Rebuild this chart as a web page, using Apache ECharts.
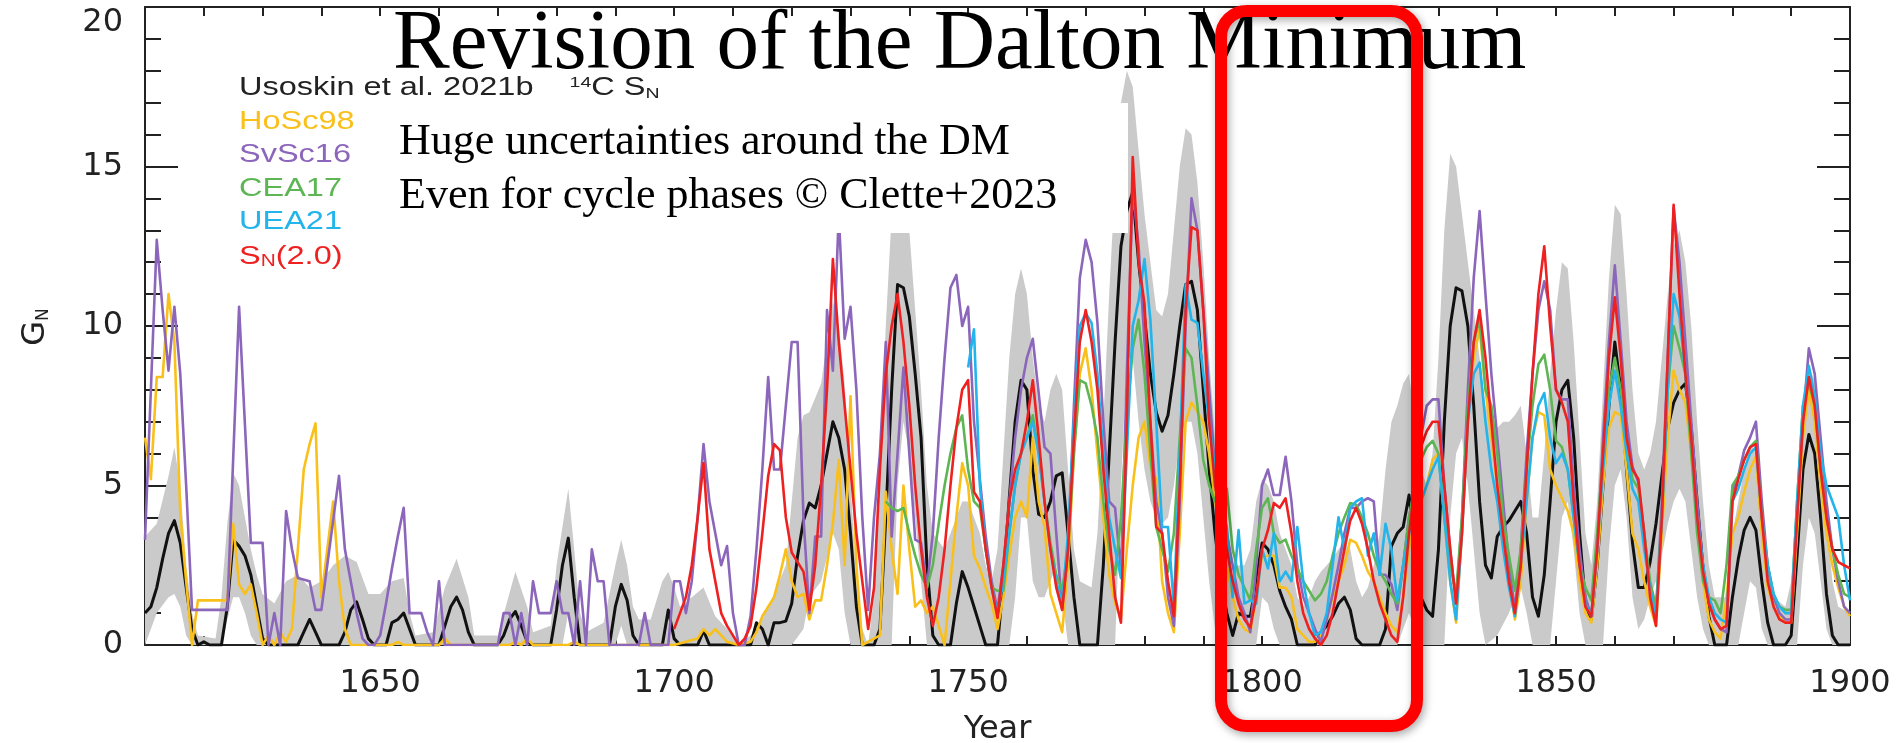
<!DOCTYPE html>
<html>
<head>
<meta charset="utf-8">
<title>Revision of the Dalton Minimum</title>
<script src="https://cdn.jsdelivr.net/npm/echarts@6/dist/echarts.min.js"></script>
<style>
  html, body { margin: 0; padding: 0; background: #ffffff; }
  #chart { width: 1897px; height: 743px; }
</style>
</head>
<body>
<div id="chart"></div>
<script>
// Group number G_N reconstructions, [year, value]

// Usoskin et al. 2021b, 14C-based S_N
const usoskinGN = [[1610,1.0],[1611,1.2],[1612,1.8],[1613,2.7],[1614,3.5],[1615,3.9],[1616,3.2],[1617,1.8],[1618,0.5],[1619,0],[1620,0.1],[1621,0],[1623,0],[1624,1.2],[1625,3.3],[1626,3.1],[1627,2.8],[1628,2.2],[1629,1.2],[1630,0.2],[1631,0],[1636,0],[1637,0.4],[1638,0.8],[1639,0.4],[1640,0],[1643,0],[1644,0.4],[1645,1.1],[1646,1.35],[1647,0.8],[1648,0.2],[1649,0],[1651,0],[1652,0.7],[1653,0.8],[1654,1.0],[1655,0.5],[1656,0],[1660,0],[1661,0.6],[1662,1.2],[1663,1.5],[1664,1.1],[1665,0.4],[1666,0],[1670,0],[1671,0.3],[1672,0.8],[1673,1.05],[1674,0.6],[1675,0.1],[1676,0],[1679,0],[1680,1.1],[1681,2.5],[1682,3.35],[1683,1.5],[1684,0],[1689,0],[1690,1.2],[1691,1.9],[1692,1.4],[1693,0.3],[1694,0],[1698,0],[1699,1.1],[1700,0.2],[1701,0],[1704,0],[1705,0.45],[1706,0],[1713,0],[1714,0.7],[1715,0.5],[1716,0],[1717,0.7],[1718,0.7],[1719,0.75],[1720,1.3],[1721,2.8],[1722,3.9],[1723,4.45],[1724,4.3],[1725,5.0],[1726,6.0],[1727,7.0],[1728,6.5],[1729,5.5],[1730,3.5],[1731,1.2],[1732,0],[1734,0],[1735,0.5],[1736,4.0],[1737,8.0],[1738,11.3],[1739,11.2],[1740,10.3],[1741,8.5],[1742,6.5],[1743,2.5],[1744,0.3],[1745,0],[1747,0],[1748,1.3],[1749,2.3],[1750,1.8],[1751,1.2],[1752,0.6],[1753,0],[1755,0],[1756,2.0],[1757,4.6],[1758,7.0],[1759,8.3],[1760,8.0],[1761,5.5],[1762,4.1],[1763,4.0],[1764,4.5],[1765,5.3],[1766,5.4],[1767,3.5],[1768,1.5],[1769,0],[1772,0],[1773,2.5],[1774,6.0],[1775,9.5],[1776,12.5],[1777,13.6],[1778,14.2],[1779,12.0],[1780,10.3],[1781,8.5],[1782,7.3],[1783,6.7],[1784,7.2],[1785,8.5],[1786,10.0],[1787,11.3],[1788,11.4],[1789,10.5],[1790,8.0],[1791,5.5],[1792,3.5],[1793,2.0],[1794,1.0],[1795,0.3],[1796,1.0],[1797,0.9],[1798,0.9],[1799,2.0],[1800,3.2],[1801,3.0],[1802,2.5],[1803,1.7],[1804,1.2],[1805,0.8],[1806,0],[1809,0],[1810,0.4],[1811,0.6],[1812,0.9],[1813,1.3],[1814,1.5],[1815,1.1],[1816,0.2],[1817,0],[1820,0],[1821,0.5],[1822,3.1],[1823,3.5],[1824,3.7],[1825,4.7],[1826,3.0],[1827,1.5],[1828,1.1],[1829,0.9],[1830,3.0],[1831,7.0],[1832,10.0],[1833,11.2],[1834,11.1],[1835,10.0],[1836,7.5],[1837,4.5],[1838,2.5],[1839,2.1],[1840,3.4],[1841,3.7],[1842,3.9],[1843,4.2],[1844,4.5],[1845,3.5],[1846,1.5],[1847,0.9],[1848,2.2],[1849,4.5],[1850,7.0],[1851,8.0],[1852,8.3],[1853,6.5],[1854,3.5],[1855,1.3],[1856,0.8],[1857,2.5],[1858,5.0],[1859,7.5],[1860,9.5],[1861,8.0],[1862,5.5],[1863,3.2],[1864,1.8],[1865,1.8],[1866,2.6],[1867,3.8],[1868,5.3],[1869,6.8],[1870,7.6],[1871,8.0],[1872,8.2],[1873,6.8],[1874,4.5],[1875,2.4],[1876,0.9],[1877,0],[1879,0],[1880,1.5],[1881,2.7],[1882,3.6],[1883,4.0],[1884,3.6],[1885,2.0],[1886,0.7],[1887,0],[1889,0],[1890,0.3],[1891,2.8],[1892,5.5],[1893,6.6],[1894,6.0],[1895,4.0],[1896,1.6],[1897,0.3],[1898,0],[1900,0]];

// Uncertainty range of the 14C reconstruction
const bandUpper = [[1610,3.4],[1612,3.8],[1614,5.3],[1615,6.2],[1616,5.0],[1617,2.5],[1618,1.0],[1619,0.3],[1622,0.2],[1623,1.5],[1624,3.8],[1625,5.4],[1626,5.0],[1627,4.0],[1628,3.0],[1629,2.2],[1630,1.6],[1632,1.3],[1634,2.0],[1636,2.2],[1638,1.8],[1640,2.0],[1642,2.5],[1644,2.8],[1646,2.6],[1648,1.6],[1650,1.6],[1652,2.0],[1654,2.1],[1655,1.0],[1656,0.3],[1659,0.4],[1661,1.8],[1663,2.7],[1665,1.5],[1666,0.3],[1670,0.3],[1673,2.3],[1675,1.2],[1676,0.4],[1679,0.6],[1680,2.5],[1682,4.9],[1683,3.0],[1684,1.0],[1685,0.4],[1688,0.7],[1690,2.5],[1691,3.3],[1692,2.5],[1693,1.2],[1694,0.8],[1696,0.8],[1698,2.0],[1699,2.3],[1700,1.8],[1701,1.2],[1703,1.5],[1705,1.8],[1707,0.9],[1709,0.5],[1711,0],[1713,0.3],[1715,0.8],[1717,1.6],[1719,2.5],[1720,4.5],[1721,6.5],[1722,7.2],[1723,7.3],[1725,8.2],[1727,10.8],[1728,10.0],[1729,8.2],[1730,5.1],[1731,2.0],[1732,0.5],[1733,0],[1734,1.5],[1735,6.0],[1736,10.0],[1737,13.5],[1738,15.0],[1739,15.0],[1740,13.0],[1741,10.5],[1742,8.0],[1743,5.0],[1744,3.5],[1746,3.0],[1748,4.0],[1749,4.5],[1750,4.5],[1751,4.0],[1752,3.5],[1753,2.5],[1754,2.0],[1755,3.0],[1756,6.0],[1757,9.0],[1758,11.0],[1759,11.8],[1760,11.0],[1761,9.0],[1762,7.5],[1763,7.0],[1764,8.0],[1765,8.5],[1766,8.0],[1767,5.5],[1768,3.0],[1769,2.0],[1771,1.8],[1772,3.5],[1773,7.0],[1774,11.0],[1775,14.5],[1776,17.0],[1777,18.0],[1778,17.5],[1779,15.5],[1780,13.5],[1781,12.0],[1782,10.5],[1783,10.3],[1784,11.0],[1785,13.0],[1786,15.0],[1787,16.2],[1788,16.0],[1789,14.5],[1790,12.0],[1791,9.0],[1792,6.5],[1793,4.5],[1794,3.0],[1795,2.0],[1796,2.5],[1797,2.5],[1798,3.0],[1799,4.5],[1800,5.2],[1801,5.0],[1802,4.5],[1803,3.5],[1804,3.0],[1805,2.5],[1806,1.5],[1807,1.2],[1808,1.5],[1809,2.0],[1810,2.3],[1811,2.5],[1812,2.7],[1813,3.0],[1814,3.2],[1815,3.0],[1816,2.0],[1817,1.5],[1818,1.8],[1819,2.5],[1820,3.5],[1821,5.5],[1822,7.0],[1823,7.5],[1824,8.2],[1825,8.5],[1826,7.0],[1827,5.5],[1828,5.0],[1829,6.0],[1830,9.0],[1831,13.0],[1832,15.4],[1833,15.0],[1834,13.5],[1835,12.0],[1836,10.5],[1837,9.0],[1838,7.5],[1839,7.0],[1840,6.8],[1841,7.0],[1842,7.0],[1843,7.2],[1844,7.5],[1845,6.0],[1846,4.0],[1847,4.0],[1848,6.0],[1849,8.5],[1850,10.5],[1851,12.0],[1852,11.8],[1853,9.5],[1854,6.5],[1855,3.5],[1856,2.5],[1857,4.5],[1858,8.0],[1859,11.5],[1860,13.8],[1861,13.5],[1862,11.0],[1863,8.0],[1864,6.0],[1865,5.5],[1866,6.0],[1867,7.0],[1868,9.0],[1869,11.0],[1870,12.5],[1871,13.0],[1872,12.0],[1873,10.0],[1874,7.0],[1875,4.5],[1876,2.5],[1877,1.5],[1879,1.5],[1880,3.5],[1881,4.5],[1882,5.5],[1883,6.3],[1884,6.0],[1885,4.5],[1886,2.5],[1887,1.5],[1889,1.2],[1890,2.0],[1891,5.0],[1892,7.5],[1893,8.7],[1894,8.3],[1895,6.5],[1896,4.0],[1897,2.0],[1898,1.2],[1900,1.0]];
const bandLower = [[1610,0],[1612,1.0],[1614,1.5],[1615,1.6],[1616,1.2],[1617,0.3],[1618,0],[1623,0],[1624,0.8],[1625,1.5],[1626,1.5],[1627,1.0],[1628,0.3],[1629,0],[1681,0],[1682,1.0],[1683,0],[1690,0],[1691,0.6],[1692,0],[1720,0],[1722,0.5],[1723,1.5],[1725,2.0],[1727,3.5],[1728,3.0],[1729,1.0],[1730,0],[1737,0],[1738,5.0],[1739,7.0],[1740,6.0],[1741,4.0],[1742,2.0],[1743,0],[1757,0],[1758,1.5],[1759,4.0],[1760,4.0],[1761,2.0],[1762,1.5],[1763,1.5],[1764,2.0],[1765,2.5],[1766,1.5],[1767,0],[1775,0],[1776,5.0],[1777,9.0],[1778,9.0],[1779,7.0],[1780,5.5],[1781,4.5],[1782,4.0],[1783,3.8],[1784,4.0],[1785,5.0],[1786,6.5],[1787,7.0],[1788,7.0],[1789,6.0],[1790,4.0],[1791,2.0],[1792,0.5],[1793,0],[1799,0],[1800,1.5],[1801,1.3],[1802,0.5],[1803,0],[1823,0],[1824,0.5],[1825,1.0],[1826,0.5],[1827,0],[1831,0],[1832,4.0],[1833,6.0],[1834,6.5],[1835,5.0],[1836,3.0],[1837,1.0],[1838,0],[1840,0.3],[1842,1.0],[1843,1.5],[1844,1.8],[1845,1.0],[1846,0],[1849,0],[1850,2.0],[1851,4.0],[1852,4.5],[1853,3.0],[1854,1.0],[1855,0],[1858,0],[1859,3.0],[1860,5.0],[1861,5.5],[1862,4.0],[1863,1.5],[1864,0.5],[1865,0.8],[1866,1.5],[1867,2.0],[1868,2.8],[1869,3.8],[1870,4.5],[1871,4.9],[1872,4.5],[1873,3.0],[1874,1.5],[1875,0.5],[1876,0],[1881,0],[1882,1.0],[1883,2.0],[1884,1.8],[1885,0.5],[1886,0],[1891,0],[1892,2.5],[1893,4.0],[1894,3.5],[1895,2.0],[1896,0.5],[1897,0],[1900,0]];

// Hoyt & Schatten 1998
const hosc98 = [[1610,6.5],[1611,5.2],[1612,8.4],[1613,8.4],[1614,11.0],[1615,9.5],[1616,4.1],[1617,2.0],[1618,0],[1619,1.4],[1624,1.4],[1625,3.8],[1626,1.9],[1627,1.6],[1628,1.9],[1629,1.0],[1630,0],[1631,0.3],[1632,0],[1633,0.4],[1634,0.1],[1635,0.5],[1636,3.0],[1637,5.5],[1638,6.3],[1639,6.95],[1640,1.5],[1641,3.0],[1642,4.5],[1643,2.0],[1644,0.5],[1645,0],[1652,0],[1653,0.1],[1654,0],[1660,0],[1661,0.2],[1662,0],[1672,0],[1673,0.1],[1674,0],[1675,0.2],[1676,0],[1682,0],[1683,0.1],[1684,0],[1700,0],[1702,0.1],[1704,0.2],[1705,0.5],[1706,0.3],[1707,0.5],[1708,0.3],[1709,0.1],[1711,0],[1713,0.1],[1714,0.4],[1715,0.9],[1716,1.2],[1717,1.5],[1718,2.2],[1719,3.0],[1720,2.0],[1721,1.5],[1722,1.6],[1723,0.8],[1724,1.4],[1725,1.4],[1726,2.5],[1727,3.8],[1728,5.8],[1729,2.5],[1730,7.8],[1731,2.5],[1732,0],[1735,0.3],[1736,4.8],[1737,3.0],[1738,1.6],[1739,5.0],[1740,3.0],[1741,1.2],[1742,1.4],[1743,1.0],[1744,1.2],[1745,0.6],[1746,0],[1747,2.0],[1748,4.0],[1749,5.7],[1750,5.0],[1751,2.8],[1752,2.4],[1753,1.8],[1754,1.3],[1755,0.5],[1756,1.5],[1757,2.8],[1758,4.0],[1759,4.5],[1760,4.0],[1761,6.5],[1762,4.5],[1763,3.7],[1764,1.6],[1765,1.0],[1766,0.4],[1767,2.5],[1768,6.0],[1769,8.5],[1770,9.3],[1771,8.0],[1772,6.0],[1773,4.0],[1774,2.2],[1775,1.3],[1776,0.85],[1777,3.0],[1778,5.0],[1779,6.5],[1780,7.0],[1781,5.6],[1782,5.2],[1783,2.0],[1784,1.0],[1785,0.4],[1786,3.5],[1787,7.0],[1788,7.6],[1789,7.3],[1790,7.0],[1791,6.0],[1792,4.5],[1793,3.5],[1794,2.5],[1795,1.5],[1796,0.8],[1797,0.5],[1798,0.4],[1799,1.5],[1800,2.8],[1801,2.8],[1802,2.8],[1803,1.8],[1804,1.8],[1805,1.5],[1806,0.5],[1807,0.3],[1808,0.1],[1809,0.1],[1810,0.3],[1811,0.8],[1812,1.5],[1813,2.0],[1814,2.5],[1815,3.3],[1816,3.2],[1817,2.8],[1818,2.3],[1819,2.0],[1820,1.5],[1821,1.0],[1822,0.6],[1823,0.4],[1824,1.5],[1825,3.0],[1826,4.0],[1827,4.5],[1828,5.0],[1829,5.8],[1830,6.0],[1831,4.0],[1832,2.0],[1833,0.7],[1834,3.5],[1835,7.0],[1836,9.0],[1837,9.9],[1838,8.0],[1839,6.5],[1840,5.0],[1841,3.5],[1842,2.0],[1843,0.8],[1844,2.0],[1845,4.5],[1846,6.5],[1847,7.3],[1848,7.2],[1849,5.5],[1850,5.0],[1851,4.6],[1852,4.2],[1853,3.5],[1854,2.0],[1855,1.0],[1856,0.7],[1857,2.5],[1858,5.0],[1859,6.8],[1860,7.3],[1861,7.2],[1862,5.5],[1863,3.5],[1864,3.0],[1865,2.0],[1866,1.2],[1867,0.6],[1868,3.5],[1869,6.5],[1870,8.6],[1871,8.0],[1872,7.6],[1873,6.0],[1874,4.0],[1875,2.0],[1876,0.8],[1877,0.4],[1878,0.2],[1879,1.5],[1880,3.5],[1881,4.0],[1882,4.8],[1883,5.5],[1884,5.9],[1885,3.5],[1886,1.8],[1887,1.2],[1888,0.9],[1889,0.7],[1890,0.7],[1891,3.5],[1892,6.5],[1893,8.0],[1894,7.0],[1895,5.0],[1896,3.5],[1897,2.5],[1898,1.8],[1899,1.2],[1900,0.9]];

// Svalgaard & Schatten 2016
const svsc16 = [[1610,3.3],[1611,8.0],[1612,12.7],[1613,10.5],[1614,8.6],[1615,10.6],[1616,8.5],[1617,5.0],[1618,1.1],[1624,1.1],[1626,10.6],[1628,3.2],[1630,3.2],[1631,0],[1632,1.0],[1633,0],[1634,4.2],[1635,3.0],[1636,2.1],[1638,2.0],[1639,1.1],[1640,1.1],[1641,2.5],[1642,3.9],[1643,5.3],[1644,3.0],[1645,2.0],[1646,1.0],[1647,0.2],[1648,0],[1649,0],[1650,0.3],[1651,1.3],[1652,2.4],[1653,3.4],[1654,4.3],[1655,1.0],[1657,1.0],[1658,0.4],[1659,0],[1660,2.0],[1661,0],[1670,0],[1671,1.0],[1672,1.0],[1673,0],[1674,1.0],[1675,0],[1676,2.0],[1677,1.0],[1679,1.0],[1680,2.0],[1681,1.0],[1682,1.0],[1683,0],[1684,2.0],[1685,0],[1686,3.0],[1687,2.0],[1688,2.0],[1689,0],[1694,0],[1695,1.0],[1696,0],[1699,0],[1700,2.0],[1701,2.0],[1702,1.0],[1703,2.0],[1704,4.0],[1705,6.3],[1706,4.5],[1707,3.5],[1708,2.5],[1709,3.1],[1710,1.0],[1711,0],[1712,0],[1713,0.9],[1714,3.0],[1715,5.5],[1716,8.4],[1717,5.5],[1718,5.5],[1719,7.5],[1720,9.5],[1721,9.5],[1722,4.0],[1723,1.0],[1724,3.4],[1725,3.4],[1726,10.5],[1727,8.6],[1728,13.5],[1729,9.6],[1730,10.6],[1731,8.0],[1732,4.0],[1733,1.1],[1734,4.0],[1735,6.0],[1736,9.5],[1737,3.4],[1738,6.0],[1739,8.7],[1740,6.0],[1741,3.3],[1742,3.2],[1743,1.8],[1744,3.5],[1745,6.5],[1746,9.0],[1747,11.2],[1748,11.6],[1749,10.0],[1750,10.6],[1751,7.0],[1752,5.2],[1753,3.4],[1754,2.0],[1755,1.1],[1756,2.5],[1757,4.5],[1758,6.5],[1759,8.0],[1760,9.0],[1761,9.6],[1762,7.9],[1763,6.2],[1764,6.0],[1765,3.5],[1766,1.1],[1767,3.0],[1768,7.5],[1769,11.5],[1770,12.7],[1771,12.0],[1772,10.1],[1773,7.0],[1774,4.5],[1775,4.3],[1776,2.3],[1777,8.5],[1778,14.3],[1779,12.5],[1780,9.5],[1781,7.0],[1782,4.5],[1783,3.5],[1784,1.5],[1785,0.6],[1786,4.5],[1787,10.0],[1788,14.0],[1789,13.0],[1790,10.5],[1791,8.0],[1792,5.5],[1793,4.5],[1794,3.5],[1795,2.5],[1796,1.5],[1797,1.0],[1798,0.4],[1799,2.5],[1800,5.0],[1801,5.5],[1802,4.7],[1803,4.7],[1804,5.9],[1805,4.5],[1806,2.5],[1807,1.5],[1808,1.0],[1809,0.5],[1810,0.1],[1811,0.8],[1812,1.6],[1813,2.5],[1814,3.5],[1815,4.3],[1816,4.3],[1817,4.5],[1818,4.6],[1819,4.5],[1820,2.2],[1821,2.2],[1822,1.9],[1823,1.1],[1824,2.5],[1825,4.0],[1826,5.0],[1827,6.5],[1828,7.5],[1829,7.7],[1830,7.7],[1831,5.0],[1832,3.0],[1833,1.3],[1834,4.0],[1835,8.0],[1836,11.5],[1837,13.6],[1838,11.0],[1839,8.5],[1840,6.5],[1841,4.5],[1842,2.5],[1843,1.1],[1844,3.0],[1845,6.0],[1846,8.5],[1847,10.5],[1848,11.4],[1849,10.5],[1850,8.0],[1851,7.7],[1852,7.7],[1853,5.0],[1854,3.0],[1855,1.5],[1856,0.9],[1857,3.0],[1858,6.5],[1859,9.5],[1860,11.9],[1861,9.5],[1862,7.0],[1863,5.6],[1864,5.1],[1865,3.5],[1866,1.8],[1867,0.9],[1868,4.5],[1869,9.0],[1870,13.7],[1871,12.0],[1872,9.5],[1873,7.0],[1874,4.5],[1875,2.5],[1876,1.3],[1877,0.8],[1878,0.5],[1879,0.4],[1880,4.8],[1881,5.3],[1882,6.1],[1883,6.5],[1884,7.0],[1885,4.5],[1886,2.5],[1887,1.5],[1888,1.0],[1889,0.8],[1890,0.8],[1891,4.0],[1892,7.0],[1893,9.3],[1894,8.5],[1895,6.5],[1896,4.5],[1897,3.0],[1898,2.0],[1899,1.2],[1900,1.0]];

// Chatzistergos et al. 2017
const cea17 = [[1736,4.5],[1737,4.3],[1738,4.2],[1739,4.3],[1740,3.5],[1741,2.8],[1742,2.2],[1743,1.8],[1744,2.5],[1745,3.8],[1746,5.0],[1747,6.0],[1748,6.8],[1749,7.2],[1750,5.5],[1751,4.5],[1752,4.3],[1753,3.0],[1754,1.8],[1755,1.7],[1756,1.7],[1757,3.5],[1758,5.0],[1759,6.0],[1760,6.5],[1761,7.2],[1762,6.0],[1763,4.5],[1764,3.2],[1765,2.2],[1766,1.7],[1767,3.0],[1768,6.0],[1769,8.3],[1770,8.2],[1771,7.5],[1772,6.5],[1773,4.5],[1774,3.0],[1775,2.2],[1776,4.0],[1777,7.0],[1778,9.3],[1779,10.2],[1780,8.5],[1781,6.0],[1782,3.7],[1783,3.0],[1784,2.3],[1785,3.5],[1786,6.5],[1787,9.3],[1788,9.0],[1789,7.5],[1790,5.8],[1791,5.0],[1792,4.5],[1793,4.8],[1794,4.9],[1795,3.0],[1796,2.2],[1797,1.8],[1798,1.4],[1799,3.0],[1800,4.3],[1801,4.6],[1802,3.5],[1803,3.2],[1804,3.3],[1805,2.8],[1806,2.4],[1807,2.0],[1808,1.7],[1809,1.4],[1810,1.6],[1811,2.0],[1812,2.8],[1813,3.5],[1814,4.0],[1815,4.45],[1816,4.4],[1817,4.0],[1818,3.5],[1819,2.8],[1820,2.3],[1821,2.0],[1822,1.6],[1823,1.3],[1824,2.5],[1825,4.0],[1826,5.0],[1827,5.8],[1828,6.2],[1829,6.4],[1830,6.0],[1831,4.0],[1832,2.5],[1833,1.6],[1834,4.0],[1835,7.5],[1836,9.5],[1837,10.2],[1838,8.0],[1839,7.5],[1840,6.0],[1841,4.0],[1842,2.8],[1843,1.7],[1844,3.0],[1845,5.5],[1846,7.5],[1847,8.8],[1848,9.1],[1849,8.0],[1850,6.4],[1851,6.2],[1852,5.5],[1853,4.0],[1854,2.5],[1855,1.8],[1856,1.4],[1857,3.5],[1858,6.0],[1859,8.0],[1860,9.0],[1861,8.0],[1862,6.5],[1863,5.2],[1864,4.9],[1865,3.5],[1866,2.0],[1867,1.2],[1868,4.0],[1869,8.0],[1870,10.0],[1871,9.3],[1872,8.5],[1873,6.0],[1874,3.5],[1875,2.0],[1876,1.5],[1877,1.4],[1878,1.0],[1879,2.5],[1880,5.0],[1881,5.3],[1882,5.8],[1883,6.2],[1884,6.4],[1885,4.0],[1886,2.5],[1887,1.6],[1888,1.2],[1889,1.1],[1890,1.1],[1891,4.5],[1892,7.5],[1893,8.2],[1894,7.5],[1895,5.5],[1896,4.0],[1897,3.0],[1898,2.2],[1899,1.6],[1900,1.5]];

// Usoskin et al. 2021
const uea21 = [[1750,8.7],[1751,9.9],[1752,5.0],[1753,3.0],[1754,1.8],[1755,1.0],[1756,2.0],[1757,3.5],[1758,5.0],[1759,6.0],[1760,6.5],[1761,7.0],[1762,6.0],[1763,4.5],[1764,3.0],[1765,2.0],[1766,1.3],[1767,3.5],[1768,7.0],[1769,10.0],[1770,10.4],[1771,10.1],[1772,8.5],[1773,6.0],[1774,4.0],[1775,3.0],[1776,2.1],[1777,6.0],[1778,10.0],[1779,10.8],[1780,12.1],[1781,10.2],[1782,7.0],[1783,3.7],[1784,3.7],[1785,1.2],[1786,6.0],[1787,11.3],[1788,10.2],[1789,10.1],[1790,8.5],[1791,7.0],[1792,5.5],[1793,4.5],[1794,3.7],[1795,1.5],[1796,3.6],[1797,1.3],[1798,1.4],[1799,1.3],[1800,3.0],[1801,2.4],[1802,3.5],[1803,2.0],[1804,2.3],[1805,2.0],[1806,3.7],[1807,2.0],[1808,1.0],[1809,0.3],[1810,0.4],[1811,1.0],[1812,2.5],[1813,4.0],[1814,3.0],[1815,4.3],[1816,4.5],[1817,4.6],[1818,2.8],[1819,3.5],[1820,2.2],[1821,3.8],[1822,3.0],[1823,1.4],[1824,2.5],[1825,3.5],[1826,4.0],[1827,4.5],[1828,5.0],[1829,5.5],[1830,5.9],[1831,4.0],[1832,2.0],[1833,0.8],[1834,3.5],[1835,7.0],[1836,8.5],[1837,8.85],[1838,7.0],[1839,5.5],[1840,4.5],[1841,3.0],[1842,1.8],[1843,0.9],[1844,2.5],[1845,4.5],[1846,6.5],[1847,7.5],[1848,7.9],[1849,6.5],[1850,5.7],[1851,6.0],[1852,5.5],[1853,4.0],[1854,2.5],[1855,1.3],[1856,0.9],[1857,3.0],[1858,5.5],[1859,7.5],[1860,8.6],[1861,7.5],[1862,6.0],[1863,4.9],[1864,4.5],[1865,3.0],[1866,1.8],[1867,0.9],[1868,4.0],[1869,8.0],[1870,11.0],[1871,10.3],[1872,8.5],[1873,6.5],[1874,4.0],[1875,2.5],[1876,1.5],[1877,1.0],[1878,0.8],[1879,0.7],[1880,4.5],[1881,4.9],[1882,5.5],[1883,6.0],[1884,6.2],[1885,4.0],[1886,2.5],[1887,1.6],[1888,1.2],[1889,1.0],[1890,1.0],[1891,4.5],[1892,7.5],[1893,8.75],[1894,7.8],[1895,6.0],[1896,5.0],[1897,4.5],[1898,4.0],[1899,2.5],[1900,1.4]];

// International sunspot number, version 2.0 (scaled)
const sn20 = [[1700,0.5],[1701,1.0],[1702,1.5],[1703,2.5],[1704,4.0],[1705,5.7],[1706,3.0],[1707,2.0],[1708,1.0],[1709,0.6],[1710,0.3],[1711,0],[1712,0.2],[1713,0.6],[1714,1.8],[1715,3.5],[1716,5.3],[1717,6.3],[1718,6.1],[1719,4.0],[1720,2.9],[1721,2.6],[1722,2.3],[1723,1.1],[1724,2.5],[1725,5.0],[1726,8.0],[1727,12.1],[1728,9.5],[1729,7.5],[1730,5.5],[1731,3.5],[1732,2.0],[1733,0.5],[1734,1.8],[1735,5.5],[1736,8.5],[1737,10.0],[1738,11.0],[1739,9.5],[1740,7.5],[1741,5.0],[1742,3.0],[1743,1.5],[1744,0.6],[1745,1.5],[1746,3.0],[1747,5.0],[1748,6.8],[1749,8.0],[1750,8.3],[1751,4.8],[1752,4.5],[1753,3.0],[1754,1.8],[1755,0.85],[1756,2.5],[1757,4.5],[1758,5.5],[1759,6.0],[1760,7.0],[1761,8.3],[1762,6.5],[1763,4.5],[1764,3.0],[1765,1.8],[1766,1.1],[1767,3.0],[1768,6.5],[1769,9.5],[1770,10.5],[1771,9.5],[1772,8.0],[1773,5.5],[1774,3.5],[1775,1.5],[1776,0.7],[1777,7.0],[1778,15.3],[1779,12.0],[1780,10.7],[1781,7.0],[1782,3.7],[1783,3.5],[1784,2.0],[1785,0.9],[1786,5.0],[1787,10.5],[1788,13.1],[1789,13.0],[1790,10.5],[1791,7.0],[1792,5.0],[1793,4.0],[1794,3.0],[1795,2.0],[1796,1.3],[1797,0.8],[1798,0.55],[1799,1.5],[1800,3.0],[1801,3.6],[1802,4.45],[1803,4.3],[1804,4.6],[1805,3.5],[1806,2.0],[1807,1.0],[1808,0.5],[1809,0.2],[1810,0],[1811,0.3],[1812,1.0],[1813,2.0],[1814,3.0],[1815,3.9],[1816,4.3],[1817,3.8],[1818,3.0],[1819,2.0],[1820,1.3],[1821,0.8],[1822,0.3],[1823,0.1],[1824,1.5],[1825,3.5],[1826,5.0],[1827,6.2],[1828,6.7],[1829,7.0],[1830,7.0],[1831,5.0],[1832,3.0],[1833,1.3],[1834,3.5],[1835,7.0],[1836,9.5],[1837,10.5],[1838,9.0],[1839,7.0],[1840,5.0],[1841,3.5],[1842,2.0],[1843,1.0],[1844,2.5],[1845,5.5],[1846,8.5],[1847,11.0],[1848,12.5],[1849,10.0],[1850,8.0],[1851,7.6],[1852,7.0],[1853,4.5],[1854,2.5],[1855,1.2],[1856,0.9],[1857,3.0],[1858,6.0],[1859,9.0],[1860,10.9],[1861,9.0],[1862,6.5],[1863,5.5],[1864,5.2],[1865,3.5],[1866,1.5],[1867,0.6],[1868,4.0],[1869,9.0],[1870,13.8],[1871,11.0],[1872,8.5],[1873,6.5],[1874,4.0],[1875,2.3],[1876,1.3],[1877,0.8],[1878,0.5],[1879,0.6],[1880,4.5],[1881,5.2],[1882,5.8],[1883,6.2],[1884,6.3],[1885,4.0],[1886,2.0],[1887,1.2],[1888,0.8],[1889,0.7],[1890,0.7],[1891,4.0],[1892,7.0],[1893,8.4],[1894,7.5],[1895,5.5],[1896,4.0],[1897,3.0],[1898,2.6],[1899,2.5],[1900,2.4]];

// Axis ranges and tick labels
const yearRange = [1610, 1900];
const yearLabels = [1650, 1700, 1750, 1800, 1850, 1900];
const gnRange = [0, 20];

const AXIS_FONT = 'DejaVu Sans';
const KEY_FONT = 'Liberation Sans';
const KEY_STRETCH = 1.3;
const SERIF = 'Liberation Serif, Times New Roman, serif';
const INK = '#222222';

const COLORS = {
  usoskin: '#111111', hosc98: '#f9c01c', svsc16: '#8b66bb',
  cea17: '#5db653', uea21: '#22b4ea', sn20: '#ee2020'
};

const chart = echarts.init(document.getElementById('chart'), null, { renderer: 'canvas' });

function lineSeries(name, data, color, width, z) {
  return {
    name: name, type: 'line', data: data, xAxisIndex: 0, yAxisIndex: 0,
    symbol: 'none', showSymbol: false, clip: true, z: z,
    lineStyle: { color: color, width: width, join: 'round' },
    emphasis: { disabled: true }, silent: true
  };
}

// one line of the series key, drawn slightly stretched like the rest of the figure
function keyText(y, text, color, rich) {
  const style = { text: text, align: 'left', verticalAlign: 'middle' };
  if (rich) {
    style.rich = rich;
  } else {
    style.fontFamily = KEY_FONT; style.fontSize = 25; style.fill = color;
  }
  return { type: 'text', z: 60, silent: true, x: 239, y: y, scaleX: KEY_STRETCH, style: style };
}

const frameAxis = {
  axisLine: { show: true, onZero: false, lineStyle: { color: INK, width: 2 } },
  splitLine: { show: false }
};

const option = {
  animation: false,
  backgroundColor: '#ffffff',
  grid: { left: 145, right: 47, top: 7, bottom: 98, containLabel: false, outerBoundsMode: 'none' },
  xAxis: [
    Object.assign({}, frameAxis, {
      type: 'value', position: 'bottom', min: yearRange[0], max: yearRange[1], interval: 10,
      axisTick: { show: true, inside: true, length: 9, lineStyle: { color: INK, width: 2 } },
      axisLabel: {
        show: true, margin: 23, color: INK, fontFamily: AXIS_FONT, fontSize: 32,
        formatter: function (v) { return yearLabels.indexOf(v) >= 0 ? String(v) : ''; }
      },
      name: 'Year', nameLocation: 'middle', nameGap: 69,
      nameTextStyle: { color: INK, fontFamily: AXIS_FONT, fontSize: 32 }
    }),
    Object.assign({}, frameAxis, {
      type: 'value', position: 'top', min: yearRange[0], max: yearRange[1], interval: 10,
      axisTick: { show: true, inside: true, length: 9, lineStyle: { color: INK, width: 2 } },
      axisLabel: { show: false }
    })
  ],
  yAxis: [
    Object.assign({}, frameAxis, {
      type: 'value', position: 'left', min: gnRange[0], max: gnRange[1], interval: 5,
      axisTick: { show: true, inside: true, length: 33, lineStyle: { color: INK, width: 2 } },
      minorTick: { show: true, splitNumber: 5, length: 16, lineStyle: { color: INK, width: 2 } },
      axisLabel: {
        show: true, margin: 22, color: INK, fontFamily: AXIS_FONT, fontSize: 32,
        verticalAlignMaxLabel: 'top'
      }
    }),
    Object.assign({}, frameAxis, {
      type: 'value', position: 'right', min: gnRange[0], max: gnRange[1], interval: 5,
      axisTick: { show: true, inside: true, length: 33, lineStyle: { color: INK, width: 2 } },
      minorTick: { show: true, splitNumber: 5, length: 16, lineStyle: { color: INK, width: 2 } },
      axisLabel: { show: false }
    })
  ],
  series: [
    {
      // shaded uncertainty envelope of the 14C reconstruction
      name: 'range', type: 'custom', xAxisIndex: 0, yAxisIndex: 0, z: 1, silent: true,
      data: [[yearRange[0], 0]],
      renderItem: function (params, api) {
        const pts = [];
        bandUpper.forEach(function (p) { pts.push(api.coord(p)); });
        for (let i = bandLower.length - 1; i >= 0; i--) pts.push(api.coord(bandLower[i]));
        return { type: 'polygon', shape: { points: pts }, style: { fill: '#cacaca', stroke: null } };
      }
    },
    lineSeries('Usoskin et al. 2021b', usoskinGN, COLORS.usoskin, 3, 3),
    lineSeries('HoSc98', hosc98, COLORS.hosc98, 2.6, 4),
    lineSeries('SvSc16', svsc16, COLORS.svsc16, 2.6, 5),
    lineSeries('CEA17', cea17, COLORS.cea17, 2.6, 6),
    lineSeries('UEA21', uea21, COLORS.uea21, 2.6, 7),
    lineSeries('SN(2.0)', sn20, COLORS.sn20, 2.6, 8)
  ],
  graphic: [
    // white panel behind the annotation lines
    { type: 'rect', z: 50, silent: true, shape: { x: 385, y: 103, width: 743, height: 130 }, style: { fill: '#ffffff' } },
    { type: 'text', z: 60, silent: true, x: 393, y: 46,
      style: { text: 'Revision of the Dalton Minimum', font: '85px ' + SERIF, fill: '#000000', align: 'left', verticalAlign: 'middle' } },
    { type: 'text', z: 60, silent: true, x: 399, y: 142,
      style: { text: 'Huge uncertainties around the DM', font: '44px ' + SERIF, fill: '#000000', align: 'left', verticalAlign: 'middle' } },
    { type: 'text', z: 60, silent: true, x: 399, y: 196,
      style: { text: 'Even for cycle phases \u00A9 Clette+2023', font: '44px ' + SERIF, fill: '#000000', align: 'left', verticalAlign: 'middle' } },
    // series key
    keyText(88, '{t|Usoskin et al. 2021b    }{sup|14}{t|C S}{sub|N}', INK, {
      t: { fontFamily: KEY_FONT, fontSize: 25, lineHeight: 26, fill: INK },
      sup: { fontFamily: KEY_FONT, fontSize: 15, lineHeight: 4, verticalAlign: 'top', fill: INK },
      sub: { fontFamily: KEY_FONT, fontSize: 15, lineHeight: 4, verticalAlign: 'bottom', fill: INK }
    }),
    keyText(122, 'HoSc98', COLORS.hosc98),
    keyText(155, 'SvSc16', COLORS.svsc16),
    keyText(189, 'CEA17', COLORS.cea17),
    keyText(222, 'UEA21', COLORS.uea21),
    keyText(257, '{t|S}{sub|N}{t|(2.0)}', COLORS.sn20, {
      t: { fontFamily: KEY_FONT, fontSize: 25, lineHeight: 26, fill: COLORS.sn20 },
      sub: { fontFamily: KEY_FONT, fontSize: 16, lineHeight: 4, verticalAlign: 'bottom', fill: COLORS.sn20 }
    }),
    // vertical axis title G_N
    { type: 'text', z: 60, silent: true, x: 36, y: 327, rotation: Math.PI / 2,
      style: {
        text: '{g|G}{sub|N}', align: 'center', verticalAlign: 'middle',
        rich: {
          g: { fontFamily: AXIS_FONT, fontSize: 32, lineHeight: 32, fill: INK },
          sub: { fontFamily: AXIS_FONT, fontSize: 17, lineHeight: 5, verticalAlign: 'bottom', fill: INK }
        }
      } },
    // highlight frame around the Dalton Minimum
    { type: 'rect', z: 100, silent: true,
      shape: { x: 1221, y: 11, width: 196, height: 715, r: 26 },
      style: { fill: null, stroke: '#ff0000', lineWidth: 12,
        shadowBlur: 8, shadowColor: 'rgba(0,0,0,0.35)', shadowOffsetX: 2, shadowOffsetY: 3 } }
  ]
};

chart.setOption(option);
</script>
</body>
</html>
